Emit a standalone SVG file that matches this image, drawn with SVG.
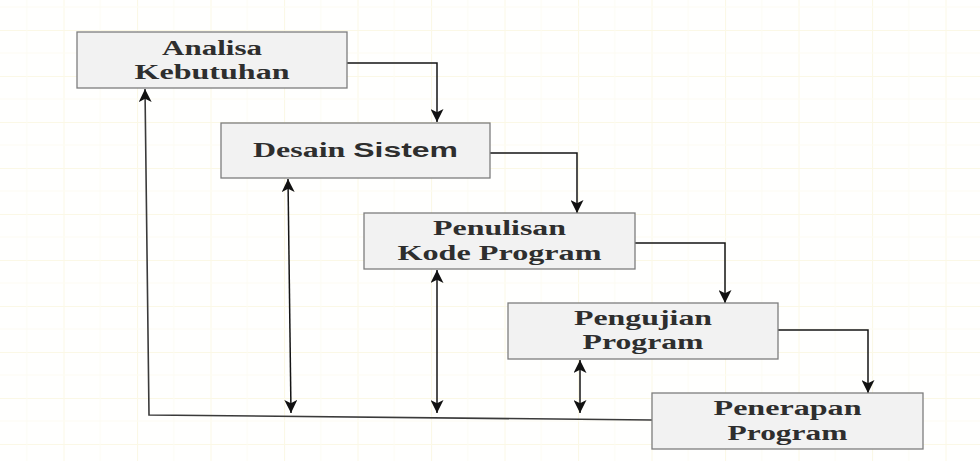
<svg xmlns="http://www.w3.org/2000/svg" width="980" height="461" viewBox="0 0 980 461">
<defs>
<style>
.box{fill:#f2f2f2;stroke:#7d7d7d;stroke-width:1.3}
.t{font-family:"Liberation Serif","Times New Roman",serif;font-weight:bold;font-size:20px;fill:#2e2e2e;text-anchor:middle}
.s{font-family:"Liberation Sans",Arial,sans-serif;font-weight:bold}
.c{fill:none;stroke:#151515;stroke-width:1.5}
.fb{fill:none;stroke:#3a3a3a;stroke-width:1.6}
</style>
<pattern id="grid" width="73.5" height="46" patternUnits="userSpaceOnUse" x="-10" y="-16">
<rect width="73.5" height="46" fill="#fffffe"/>
<path d="M0,0 H73.5 M0,0 V46" stroke="#fbf8e6" stroke-width="2" fill="none"/>
<path d="M0,23 H73.5 M36.75,0 V46" stroke="#fdfcf3" stroke-width="1" fill="none"/>
</pattern>
<marker id="ah" viewBox="0 0 10 10" refX="10" refY="5" markerWidth="13" markerHeight="13" markerUnits="userSpaceOnUse" orient="auto-start-reverse">
<path d="M0,0 L10,5 L0,10 L2.5,5 z" fill="#111"/>
</marker>
</defs>
<rect width="980" height="461" fill="url(#grid)"/>

<g id="connectors">
<polyline class="c" points="347,63 437,63 437,122" marker-end="url(#ah)"/>
<polyline class="c" points="490,153 577,153 577,213" marker-end="url(#ah)"/>
<polyline class="c" points="635,243 725,243 725,303" marker-end="url(#ah)"/>
<polyline class="c" points="778,330 868,330 868,393" marker-end="url(#ah)"/>
<line class="c" x1="288" y1="179" x2="291" y2="413" marker-start="url(#ah)" marker-end="url(#ah)"/>
<line class="c" x1="437" y1="270" x2="437" y2="413" marker-start="url(#ah)" marker-end="url(#ah)"/>
<line class="c" x1="580" y1="360" x2="580" y2="413" marker-start="url(#ah)" marker-end="url(#ah)"/>
<polyline class="fb" points="652,420 149,415 145,89" marker-end="url(#ah)"/>
</g>

<g id="analisa">
<rect class="box" x="77" y="32" width="270" height="56"/>
<g transform="translate(212,0) scale(1.4,1)">
<text class="t" x="0" y="55" textLength="71.4" lengthAdjust="spacingAndGlyphs">Analisa</text>
<text class="t" x="0" y="79" textLength="110.7" lengthAdjust="spacingAndGlyphs">Kebutuhan</text>
</g>
</g>

<g id="desain">
<rect class="box" x="221" y="123" width="269" height="55"/>
<g transform="translate(355.5,0) scale(1.4,1)">
<text class="t" x="0" y="157" textLength="146.4" lengthAdjust="spacingAndGlyphs">Desain <tspan class="s">Sistem</tspan></text>
</g>
</g>

<g id="penulisan">
<rect class="box" x="364" y="213" width="271" height="56"/>
<g transform="translate(499.5,0) scale(1.4,1)">
<text class="t" x="0" y="235" textLength="95" lengthAdjust="spacingAndGlyphs">Penulisan</text>
<text class="t" x="0" y="260" textLength="145.7" lengthAdjust="spacingAndGlyphs">Kode Program</text>
</g>
</g>

<g id="pengujian">
<rect class="box" x="508" y="303" width="270" height="56"/>
<g transform="translate(643,0) scale(1.4,1)">
<text class="t" x="0" y="325" textLength="98.6" lengthAdjust="spacingAndGlyphs">Pengujian</text>
<text class="t" x="0" y="349" textLength="86.4" lengthAdjust="spacingAndGlyphs">Program</text>
</g>
</g>

<g id="penerapan">
<rect class="box" x="652" y="393" width="271" height="56"/>
<g transform="translate(787.5,0) scale(1.4,1)">
<text class="t" x="0" y="415" textLength="105.7" lengthAdjust="spacingAndGlyphs">Penerapan</text>
<text class="t" x="0" y="440" textLength="85.7" lengthAdjust="spacingAndGlyphs">Program</text>
</g>
</g>
</svg>
